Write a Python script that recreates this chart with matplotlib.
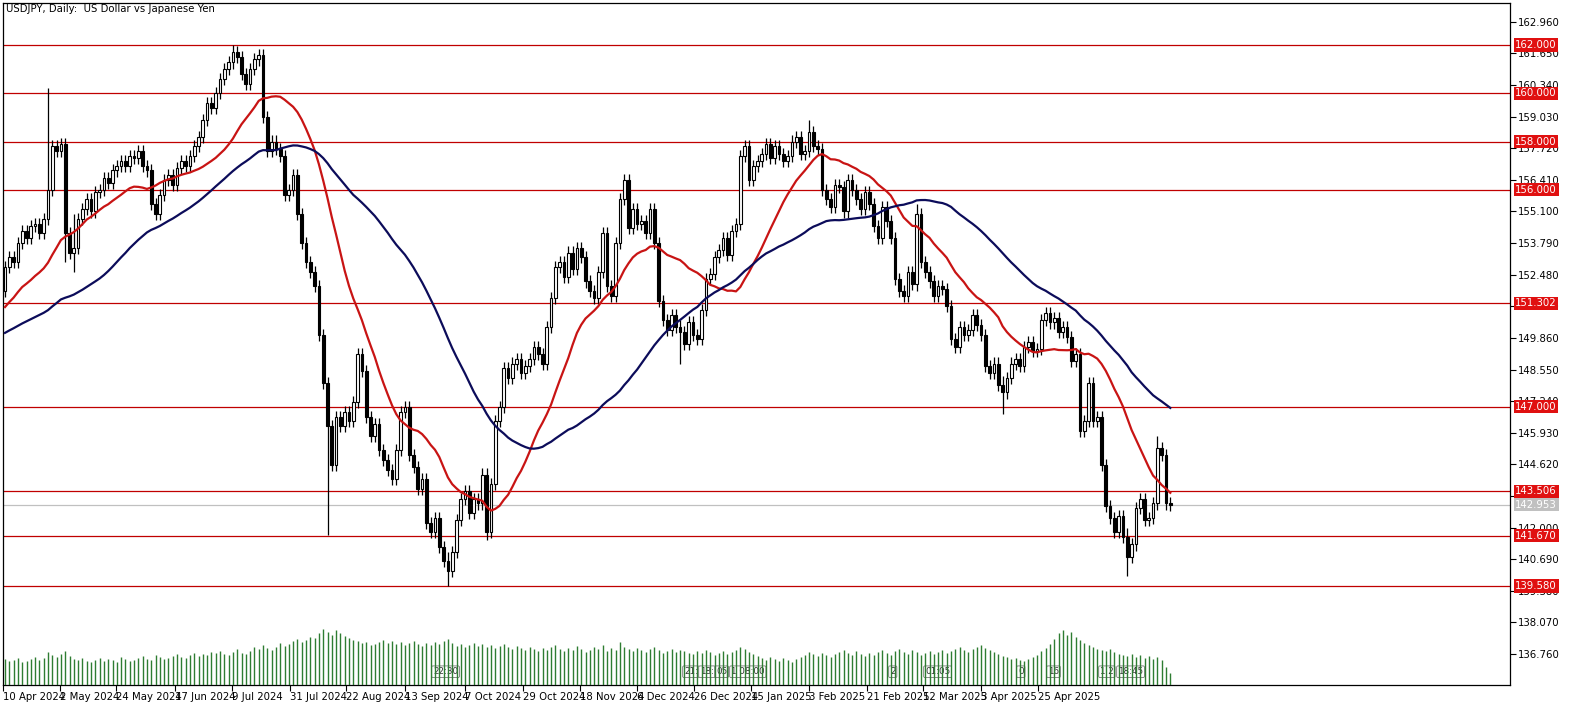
#!/usr/bin/env python3
"""USDJPY daily candles with 20/50 SMA, key levels and tick volume (MT5 style)."""

import matplotlib

matplotlib.use("Agg")
import matplotlib.pyplot as plt
import numpy as np
import pandas as pd

# closes before the visible window, only used to seed the moving averages
seed_closes = [
    148.2, 148.4, 148.9, 149.3, 149.6, 150.0, 150.3, 149.9, 150.2, 150.5,
    150.1, 150.6, 150.4, 150.7, 150.5, 150.0, 149.7, 150.2, 149.9, 149.6,
    149.8, 150.0, 149.4, 148.1, 147.7, 147.2, 147.6, 147.9, 147.4, 148.6,
    149.1, 149.3, 149.2, 150.1, 151.2, 151.5, 151.2, 151.3, 151.4, 151.3,
    151.3, 151.6, 151.7, 151.4, 151.6, 151.6, 151.8, 151.6, 151.8,
]

closes = [
    152.8, 153.2, 153.0, 153.8, 154.3, 154.0, 154.5, 154.6, 154.2, 154.8,
    156.0, 157.8, 157.6, 157.9, 154.2, 153.4, 153.6, 154.8, 155.2, 155.6,
    155.1, 155.9, 156.0, 156.5, 156.3, 156.8, 157.0, 157.2, 157.0, 157.4,
    157.3, 157.6, 157.0, 156.8, 155.4, 155.0, 155.8, 156.4, 156.6, 156.2,
    156.9, 157.2, 157.0, 157.4, 157.8, 158.2, 158.9, 159.6, 159.4, 160.0,
    160.6, 161.0, 161.3, 161.7, 161.5, 160.8, 160.4, 161.0, 161.4, 161.6,
    159.0, 157.6, 158.0, 157.7, 157.4, 155.8, 156.0, 156.6, 155.0, 153.8,
    153.0, 152.6, 152.0, 150.0, 148.0, 146.2, 144.6, 146.6, 146.2, 146.8,
    146.4, 147.2, 149.2, 148.5, 146.6, 145.8, 146.3, 145.2, 144.8, 144.4,
    144.0, 145.2, 146.8, 147.0, 145.0, 144.5, 143.6, 144.0, 142.2, 141.8,
    142.4, 141.2, 140.6, 140.2, 141.0, 142.3, 143.2, 143.5, 142.6, 143.2,
    143.0, 144.2, 141.8, 143.8, 146.4, 147.0, 148.6, 148.2, 148.8, 149.0,
    148.4, 148.7, 149.0, 149.5, 149.2, 148.8, 150.3, 151.5, 152.8, 153.0,
    152.4, 153.4, 152.7, 153.6, 153.2, 152.2, 151.8, 151.5, 152.6, 154.2,
    152.0, 151.6, 153.8, 155.6, 156.4, 154.4, 155.2, 154.6, 154.7, 154.2,
    155.2, 153.8, 151.4, 150.6, 150.2, 150.8, 150.3, 150.1, 149.6, 150.5,
    150.0, 149.8, 151.0, 152.3, 152.5, 153.2, 153.5, 154.0, 153.3, 154.3,
    154.6, 157.4, 157.8, 156.4, 157.0, 157.2, 157.5, 157.9, 157.3, 157.8,
    157.5, 157.2, 157.4, 158.0, 158.2, 157.5, 157.6, 158.4, 157.8, 157.7,
    156.0, 155.6, 155.3, 156.2, 156.1, 155.1, 156.4, 156.0, 155.6, 155.2,
    155.9, 155.4, 154.5, 154.0, 155.3, 154.7, 154.0, 152.3, 151.8, 151.6,
    152.6, 152.1, 155.0, 153.0, 152.6, 152.2, 151.6, 152.0, 151.9, 151.2,
    149.8, 149.5, 150.3, 150.0, 150.2, 150.8, 150.4, 150.0, 148.7, 148.4,
    148.8, 147.9, 147.6, 148.2, 148.8, 149.0, 148.7, 149.5, 149.7, 149.3,
    149.4, 150.6, 150.9, 150.5, 150.7, 150.1, 150.3, 149.9, 148.9, 149.2,
    146.0, 146.4, 148.0, 146.4, 146.6, 144.6, 142.9, 142.4, 141.8, 142.5,
    141.6, 140.8, 141.3, 142.8, 143.2, 142.3, 142.4, 143.0, 145.3, 145.0,
    143.0, 142.95,
]

# wick extremes that stick out well beyond the bodies: bar -> (high, low)
spikes = {
    10: (160.2, 155.8), 14: (157.9, 153.0), 16: (155.0, 152.6),
    53: (162.0, 161.0), 75: (146.4, 141.7), 103: (141.0, 139.6),
    112: (144.3, 141.5), 157: (150.6, 148.8), 187: (158.9, 157.5),
    212: (155.4, 151.8), 232: (148.3, 146.7), 261: (142.0, 140.0),
    268: (145.8, 143.0),
}

volumes = [
    26, 24, 25, 27, 23, 24, 26, 28, 25, 27, 33, 30, 28, 31, 34, 29, 26, 25, 27, 24,
    23, 25, 27, 24, 26, 25, 23, 28, 26, 24, 25, 27, 29, 26, 25, 30, 28, 26, 27, 29,
    31, 28, 27, 30, 32, 29, 31, 30, 33, 32, 34, 31, 30, 33, 36, 32, 31, 34, 38, 36,
    40, 37, 35, 38, 42, 39, 41, 44, 46, 43, 45, 48, 47, 52, 56, 53, 50, 55, 52, 49,
    47, 45, 44, 42, 43, 40, 41, 43, 45, 42, 44, 41, 43, 40, 42, 44, 41, 39, 42, 40,
    43, 41, 44, 46, 42, 39, 41, 38, 40, 42, 39, 41, 38, 40, 37, 39, 41, 38, 36, 39,
    37, 35, 38, 36, 34, 37, 35, 38, 40, 36, 34, 37, 35, 39, 36, 33, 35, 38, 36, 40,
    34, 37, 35, 43, 38, 36, 34, 37, 35, 33, 36, 38, 35, 32, 34, 36, 33, 35, 34, 32,
    31, 34, 32, 35, 33, 30, 32, 34, 31, 33, 35, 38, 36, 33, 31, 29, 27, 25, 28, 26,
    24, 27, 25, 23, 26, 28, 30, 33, 31, 29, 32, 30, 28, 31, 33, 35, 32, 30, 34, 31,
    29, 32, 30, 33, 35, 32, 30, 34, 36, 33, 31, 35, 33, 30, 32, 34, 31, 33, 35, 32,
    34, 36, 38, 35, 33, 36, 38, 40, 37, 35, 33, 31, 29, 28, 26, 27, 25, 24, 26, 28,
    30, 34, 37, 41, 46, 52, 55, 50, 53, 48, 45, 42, 40, 38, 36, 35, 34, 36, 33, 31,
    30, 29, 31, 28, 30, 27, 29, 26, 28, 25, 18, 12,
]

tick_labels = [
    "10 Apr 2024", "2 May 2024", "24 May 2024", "17 Jun 2024", "9 Jul 2024",
    "31 Jul 2024", "22 Aug 2024", "13 Sep 2024", "7 Oct 2024", "29 Oct 2024",
    "18 Nov 2024", "6 Dec 2024", "26 Dec 2024", "15 Jan 2025", "3 Feb 2025",
    "21 Feb 2025", "12 Mar 2025", "3 Apr 2025", "25 Apr 2025",
]
tick_pixels = [3, 60, 116, 175, 232, 290, 346, 405, 465, 523, 580, 637, 694,
               751, 809, 867, 923, 981, 1038]

levels = [162.000, 160.000, 158.000, 156.000, 151.302, 147.000, 143.506,
          141.670, 139.580]
last_price = 142.953

session_tags = [(433, "22:30"), (684, "21:"), (700, "18:"), (716, "05"),
                (731, "1 08:00"), (890, "2"), (925, "01:05"), (1018, "0"),
                (1048, "16"), (1100, "1 2"), (1118, "18:45")]

# ---------------------------------------------------------------------------
W, H = 1586, 714
PX = 4.3          # pixels per bar
X0 = 5            # pixel of bar 0
L, R, T, B = 3, 1510, 3, 685

fig = plt.figure(figsize=(W / 100, H / 100), dpi=100)
ax = fig.add_axes([L / W, 1 - B / H, (R - L) / W, (B - T) / H])
vax = fig.add_axes([L / W, 1 - B / H, (R - L) / W, 72 / H], sharex=ax)
vax.patch.set_alpha(0)
vax.axis("off")

xmin, xmax = (L - X0) / PX, (R - X0) / PX
ax.set_xlim(xmin, xmax)
ymax = 162 + (45 - T) / 24.13
ymin = 162 - (B - 45) / 24.13
ax.set_ylim(ymin, ymax)

all_closes = pd.Series(seed_closes + closes)
n_seed = len(seed_closes)
ma20 = all_closes.rolling(20).mean().to_numpy()[n_seed:]
ma50 = all_closes.rolling(50).mean().to_numpy()[n_seed:]

c = np.array(closes)
o = np.array([seed_closes[-1]] + closes[:-1])
hi = np.maximum(o, c) + 0.25
lo = np.minimum(o, c) - 0.25
for i, (h, l) in spikes.items():
    hi[i] = max(hi[i], h)
    lo[i] = min(lo[i], l)
x = np.arange(len(c))

for lv in levels:
    ax.axhline(lv, color="#c00000", lw=0.9, zorder=1)
ax.axhline(last_price, color="#c0c0c0", lw=0.9, zorder=1)

ax.vlines(x, lo, hi, color="black", lw=0.9, zorder=3)
bw = 0.62
for xi, oi, ci in zip(x, o, c):
    bottom, height = min(oi, ci), max(abs(ci - oi), 0.04)
    face = "white" if ci >= oi else "black"
    ax.add_patch(plt.Rectangle((xi - bw / 2, bottom), bw, height,
                               facecolor=face, edgecolor="black", lw=0.8, zorder=4))

ax.plot(x, ma20, color="#c81414", lw=1.6, zorder=5)
ax.plot(x, ma50, color="#0c0c5a", lw=1.6, zorder=5)

vax.vlines(x, 0, volumes, color="#2e7d32", lw=1.0)
vax.set_ylim(0, 72)

# right price axis
ax.yaxis.tick_right()
ticks = [162.960 - 1.31 * k for k in range(21)]
ax.set_yticks(ticks)
ax.set_yticklabels([f"{t:.3f}" for t in ticks], fontsize=7.3)
ax.tick_params(axis="y", length=4, width=0.8, pad=2)
for lv in levels:
    ax.text(1.0035, lv, f"{lv:.3f}", transform=ax.get_yaxis_transform(),
            fontsize=7.3, color="white", va="center", ha="left", zorder=10,
            bbox=dict(boxstyle="square,pad=0.15", fc="#e01010", ec="none"),
            clip_on=False)
ax.text(1.0035, last_price, f"{last_price:.3f}", transform=ax.get_yaxis_transform(),
        fontsize=7.3, color="white", va="center", ha="left", zorder=10,
        bbox=dict(boxstyle="square,pad=0.15", fc="#c0c0c0", ec="none"),
        clip_on=False)

# date axis
tick_pos = [(p - X0) / PX for p in tick_pixels]
ax.set_xticks(tick_pos)
ax.set_xticklabels(tick_labels, fontsize=7.3, ha="left")
ax.tick_params(axis="x", length=4, width=0.8, pad=1)
plt.setp(vax.get_xticklabels(), visible=False)

for px_, txt in session_tags:
    ax.text((px_ - X0) / PX, ymin + 0.55, txt, fontsize=6.3, color="#333333",
            ha="left", va="center", zorder=8,
            bbox=dict(boxstyle="round,pad=0.15", fc="white", ec="#777777", lw=0.6))

for s in ax.spines.values():
    s.set_linewidth(0.9)

fig.text(6 / W, 1 - 9 / H, "USDJPY, Daily:  US Dollar vs Japanese Yen",
         fontsize=7.3, va="center", ha="left")

fig.savefig("out.png", dpi=100)
